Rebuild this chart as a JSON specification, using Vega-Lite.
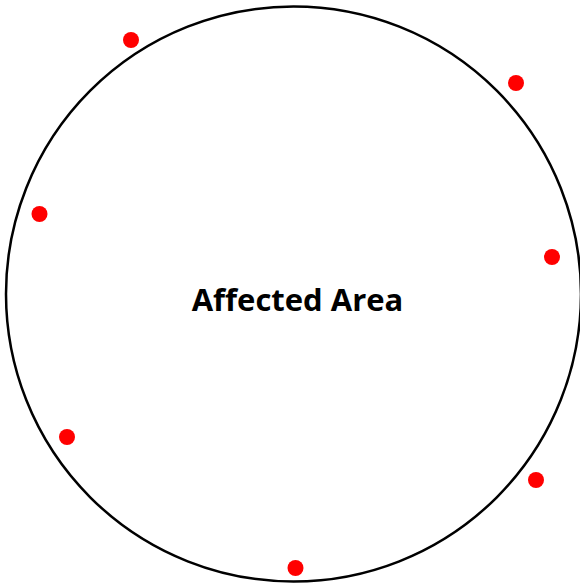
{
  "$schema": "https://vega.github.io/schema/vega-lite/v6.json",
  "width": 580,
  "height": 586,
  "autosize": {"type": "none"},
  "padding": 0,
  "background": "white",
  "config": {"view": {"stroke": null}},
  "datasets": {
    "area": [{"x": 293.5, "y": 294, "label": "Affected Area"}],
    "points": [
      {"x": 131, "y": 40},
      {"x": 516, "y": 83},
      {"x": 39.5, "y": 214},
      {"x": 552, "y": 257},
      {"x": 67, "y": 437},
      {"x": 536, "y": 480},
      {"x": 295.5, "y": 568}
    ]
  },
  "layer": [
    {
      "data": {"name": "area"},
      "mark": {"type": "point", "shape": "circle", "filled": false, "stroke": "black", "strokeWidth": 2.5, "size": 330625, "opacity": 1},
      "encoding": {
        "x": {"field": "x", "type": "quantitative", "scale": {"domain": [0, 580]}, "axis": null},
        "y": {"field": "y", "type": "quantitative", "scale": {"domain": [0, 586], "reverse": true}, "axis": null}
      }
    },
    {
      "data": {"name": "points"},
      "mark": {"type": "circle", "color": "#ff0000", "size": 256, "opacity": 1},
      "encoding": {
        "x": {"field": "x", "type": "quantitative", "scale": {"domain": [0, 580]}, "axis": null},
        "y": {"field": "y", "type": "quantitative", "scale": {"domain": [0, 586], "reverse": true}, "axis": null}
      }
    },
    {
      "data": {"name": "area"},
      "mark": {"type": "text", "font": "Open Sans", "fontWeight": "bold", "fontSize": 31, "color": "black", "dx": 4, "dy": 7.5},
      "encoding": {
        "x": {"field": "x", "type": "quantitative", "scale": {"domain": [0, 580]}, "axis": null},
        "y": {"field": "y", "type": "quantitative", "scale": {"domain": [0, 586], "reverse": true}, "axis": null},
        "text": {"field": "label"}
      }
    }
  ]
}
